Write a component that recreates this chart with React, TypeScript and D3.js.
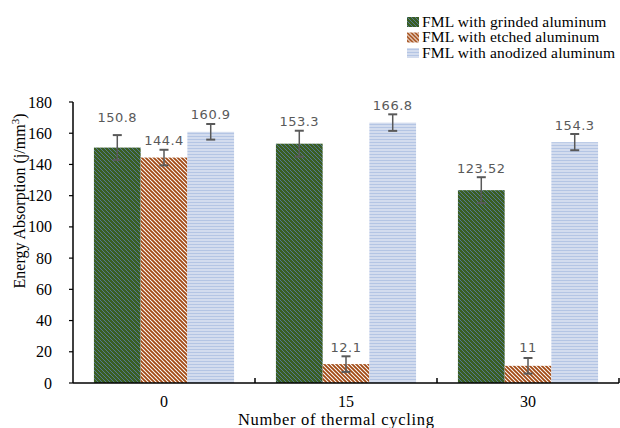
import React from "react";
import * as d3 from "d3";

const categories = ["0", "15", "30"];
const seriesNames = [
  "FML with grinded aluminum",
  "FML with etched aluminum",
  "FML with anodized aluminum",
];
const grinded = [150.8, 153.3, 123.52];
const etched = [144.4, 12.1, 11];
const anodized = [160.9, 166.8, 154.3];
const grindedErr = [8, 8.3, 8.3];
const etchedErr = [5, 5, 5];
const anodizedErr = [5, 5.3, 5.2];
const valueLabels = [
  ["150.8", "153.3", "123.52"],
  ["144.4", "12.1", "11"],
  ["160.9", "166.8", "154.3"],
];
const yTicks = [0, 20, 40, 60, 80, 100, 120, 140, 160, 180];

// label lift above bar top (styling, px), per series per category
const labelLift = [
  [26, 18, 17],
  [12.5, 12.5, 14],
  [13, 12.5, 12.5],
];

const W = 620;
const H = 428;
const left = 73;
const right = 619;
const top = 102;
const bottom = 383;

const fills = ["url(#pGreen)", "url(#pOrange)", "url(#pBlue)"];

export default function App() {
  const values = [grinded, etched, anodized];
  const errs = [grindedErr, etchedErr, anodizedErr];

  const x0 = d3
    .scaleBand<string>()
    .domain(categories)
    .range([left, right])
    .paddingInner(0.23)
    .paddingOuter(0.115);
  const x1 = d3
    .scaleBand<number>()
    .domain([0, 1, 2])
    .range([0, x0.bandwidth()]);
  const y = d3.scaleLinear().domain([0, 180]).range([bottom, top]);

  const serif = "'Liberation Serif', 'Times New Roman', serif";
  const sans = "'DejaVu Sans', Verdana, sans-serif";
  const boundaries = categories.map((c) => (x0(c) as number) + x0.bandwidth() + (x0.step() * 0.23) / 2);

  return (
    <svg
      width={W}
      height={H}
      style={{ position: "absolute", left: 0, top: 0, background: "#fff" }}
    >
      <defs>
        <pattern id="pGreen" patternUnits="userSpaceOnUse" width={4} height={4}>
          <rect width={4} height={4} fill="#3a5e22" />
          <path d="M-1,3 l2,2 M0,0 l4,4 M3,-1 l2,2" stroke="#5a80ac" strokeWidth={0.8} />
        </pattern>
        <pattern id="pOrange" patternUnits="userSpaceOnUse" width={4} height={4}>
          <rect width={4} height={4} fill="#ffffff" />
          <path d="M-1,3 l2,2 M0,0 l4,4 M3,-1 l2,2" stroke="#a24a14" strokeWidth={1.9} />
        </pattern>
        <pattern id="pBlue" patternUnits="userSpaceOnUse" width={4} height={3}>
          <rect width={4} height={3} fill="#d3dcee" />
          <rect y={1} width={4} height={1} fill="#b4c5e4" />
        </pattern>
      </defs>

      {/* bars */}
      {values.map((vals, si) =>
        vals.map((v, ci) => {
          const bx = (x0(categories[ci]) as number) + (x1(si) as number);
          return (
            <rect
              key={`b${si}-${ci}`}
              x={bx}
              y={y(v)}
              width={x1.bandwidth()}
              height={y(0) - y(v)}
              fill={fills[si]}
            />
          );
        })
      )}

      {/* error bars */}
      {values.map((vals, si) =>
        vals.map((v, ci) => {
          const cx = (x0(categories[ci]) as number) + (x1(si) as number) + x1.bandwidth() / 2;
          const e = errs[si][ci];
          return (
            <g key={`e${si}-${ci}`} stroke="#595959">
              <line x1={cx} x2={cx} y1={y(v + e)} y2={y(v - e)} strokeWidth={1.5} />
              <line x1={cx - 4.5} x2={cx + 4.5} y1={y(v + e)} y2={y(v + e)} strokeWidth={2} />
              <line x1={cx - 4.5} x2={cx + 4.5} y1={y(v - e)} y2={y(v - e)} strokeWidth={2} />
            </g>
          );
        })
      )}

      {/* value labels */}
      {values.map((vals, si) =>
        vals.map((v, ci) => {
          const cx = (x0(categories[ci]) as number) + (x1(si) as number) + x1.bandwidth() / 2;
          return (
            <text
              key={`l${si}-${ci}`}
              x={cx}
              y={y(v) - labelLift[si][ci]}
              textAnchor="middle"
              fontFamily={sans}
              fontSize={13}
              letterSpacing={0.5}
              fill="#595959"
            >
              {valueLabels[si][ci]}
            </text>
          );
        })
      )}

      {/* y axis */}
      <line x1={left} x2={left} y1={top} y2={bottom} stroke="#000" strokeWidth={1.5} />
      {yTicks.map((t) => (
        <g key={`yt${t}`}>
          <line x1={left - 4} x2={left} y1={y(t)} y2={y(t)} stroke="#000" strokeWidth={1.2} />
          <text
            x={52}
            y={y(t)}
            dy="0.35em"
            textAnchor="end"
            fontFamily={serif}
            fontSize={16}
            fill="#000"
          >
            {t}
          </text>
        </g>
      ))}

      {/* x axis */}
      <line x1={left} x2={right} y1={bottom} y2={bottom} stroke="#000" strokeWidth={1.5} />
      {boundaries.map((bx, i) => (
        <line key={`xt${i}`} x1={bx} x2={bx} y1={bottom - 5} y2={bottom} stroke="#000" strokeWidth={1.5} />
      ))}
      {categories.map((c) => (
        <text
          key={`xl${c}`}
          x={(x0(c) as number) + x0.bandwidth() / 2}
          y={407}
          textAnchor="middle"
          fontFamily={serif}
          fontSize={16}
          fill="#000"
        >
          {c}
        </text>
      ))}

      {/* axis titles */}
      <text
        x={336}
        y={425}
        textAnchor="middle"
        fontFamily={serif}
        fontSize={16.5}
        textLength={196}
        lengthAdjust="spacing"
        fill="#000"
      >
        Number of thermal cycling
      </text>
      <text
        transform={`translate(25,201) rotate(-90)`}
        textAnchor="middle"
        fontFamily={serif}
        fontSize={16}
        fill="#000"
      >
        Energy Absorption (j/mm
        <tspan dy={-6} fontSize={11}>3</tspan>
        <tspan dy={6}>)</tspan>
      </text>

      {/* legend */}
      {seriesNames.map((n, i) => (
        <g key={`lg${i}`} transform={`translate(407,${17 + i * 15.5})`}>
          <rect width={12} height={10} fill={fills[i]} />
          <text x={15} y={9.5} fontFamily={serif} fontSize={15.5} letterSpacing={0.15} fill="#000">
            {n}
          </text>
        </g>
      ))}
    </svg>
  );
}
